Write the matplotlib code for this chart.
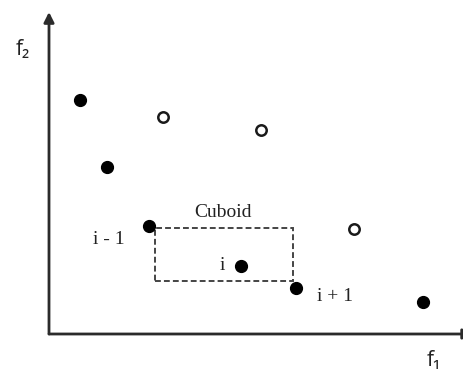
import numpy as np
import matplotlib.pyplot as plt
from matplotlib.patches import Rectangle

# Objective-space points: non-dominated front (filled) and dominated (open)
front_f1 = [0.75, 1.40, 2.41, 4.63, 5.95, 9.01]
front_f2 = [5.81, 4.15, 2.68, 1.69, 1.14, 0.80]
dom_f1 = [2.75, 5.11, 7.35]
dom_f2 = [5.39, 5.07, 2.61]

# cuboid around solution i, spanned by its neighbours
cub_f1 = [2.55, 5.88]
cub_f2 = [1.32, 2.63]

point_labels = ['i - 1', 'i', 'i + 1']
label_pos = [(1.45, 2.34), (4.18, 1.71), (6.89, 0.92)]

fig = plt.figure(figsize=(4.64, 3.71), dpi=100)
ax = fig.add_axes([49 / 464, 37 / 371, 415 / 464, 322 / 371])
ax.set_xlim(0, 10)
ax.set_ylim(0, 8)
ax.axis('off')

axis_col = '#2b2b2b'
ax.annotate('', xy=(0, 8), xytext=(0, 0), annotation_clip=False,
            arrowprops=dict(arrowstyle='-|>', color=axis_col, lw=2,
                            mutation_scale=15, shrinkA=0, shrinkB=0))
ax.annotate('', xy=(10.22, 0), xytext=(0, 0), annotation_clip=False,
            arrowprops=dict(arrowstyle='-|>', color=axis_col, lw=2,
                            mutation_scale=15, shrinkA=0, shrinkB=0))

ax.add_patch(Rectangle((cub_f1[0], cub_f2[0]), cub_f1[1] - cub_f1[0],
                       cub_f2[1] - cub_f2[0], fill=False, ec='#444444',
                       lw=1.4, linestyle=(0, (3, 1.6))))

ax.plot(front_f1, front_f2, 'o', color='black', ms=8.5, clip_on=False)
ax.plot(dom_f1, dom_f2, 'o', mfc='white', mec='#1a1a1a', mew=1.8, ms=7.5)

serif = 'Liberation Serif'
ax.text(4.19, 3.03, 'Cuboid', family=serif, fontsize=14, color='#222222',
        ha='center', va='center')
for lab, (x, y) in zip(point_labels, label_pos):
    ax.text(x, y, lab, family=serif, fontsize=14, color='#222222',
            ha='center', va='center')

sans = ['Open Sans', 'DejaVu Sans']
ax.text(9.28, -0.65, 'f₁', family=sans, fontsize=15, color='#222222',
        ha='center', va='center', clip_on=False)
ax.text(-0.63, 7.06, 'f₂', family=sans, fontsize=15, color='#222222',
        ha='center', va='center', clip_on=False)

fig.savefig('out.png', dpi=100)
